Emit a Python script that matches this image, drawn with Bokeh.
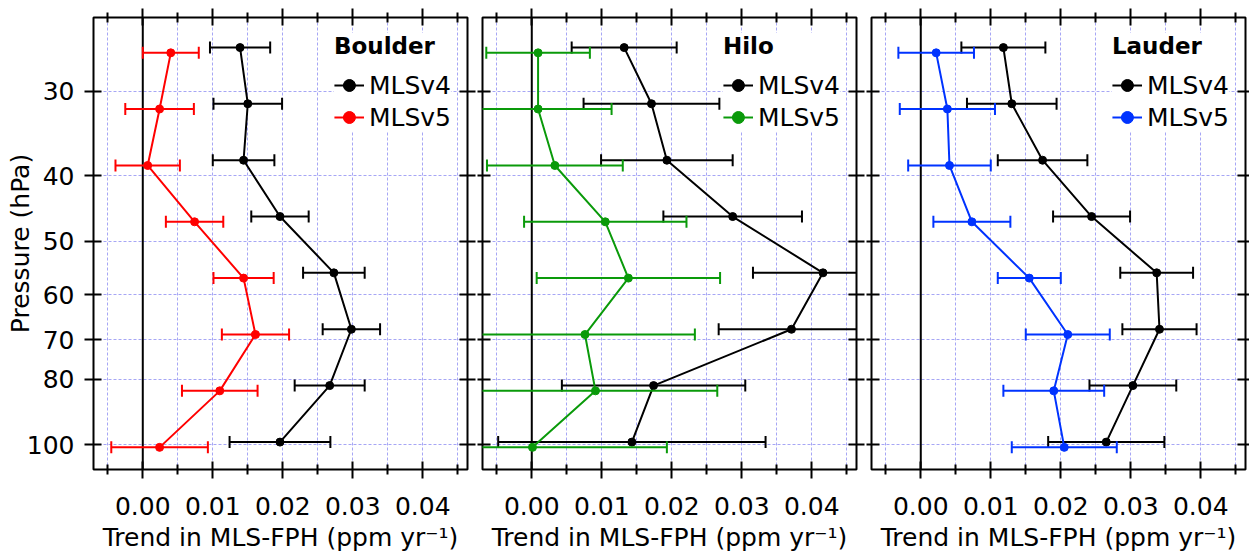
import math
from bokeh.plotting import figure
from bokeh.models import (Range1d, FixedTicker, LinearAxis, LogAxis, PrintfTickFormatter,
                          Legend, LegendItem, Span, ColumnDataSource, CustomLabelingPolicy)
from bokeh.layouts import row
from bokeh.embed import file_html
from bokeh.resources import INLINE

# ---------------- data ----------------
pressure_levels = [26.1, 31.6, 38.3, 46.4, 56.2, 68.1, 82.5, 100.0]

stations = ["Boulder", "Hilo", "Lauder"]
series_names = ["MLSv4", "MLSv5"]
v5_colors = ["#ff0000", "#0a9a0a", "#0033ff"]

boulder_v4 = [0.0139, 0.0150, 0.0144, 0.0196, 0.0273, 0.0298, 0.0267, 0.0196]
boulder_v4_err = [0.0043, 0.0049, 0.0044, 0.0041, 0.0044, 0.0041, 0.0050, 0.0072]
boulder_v5 = [0.0040, 0.0024, 0.0007, 0.0074, 0.0144, 0.0161, 0.0110, 0.0024]
boulder_v5_err = [0.0040, 0.0049, 0.0046, 0.0041, 0.0043, 0.0048, 0.0054, 0.0069]

hilo_v4 = [0.0132, 0.0171, 0.0193, 0.0287, 0.0416, 0.0371, 0.0174, 0.0143]
hilo_v4_err = [0.0075, 0.0097, 0.0094, 0.0099, 0.0100, 0.0104, 0.0131, 0.0191]
hilo_v5 = [0.0009, 0.0009, 0.0033, 0.0105, 0.0138, 0.0076, 0.0091, 0.0001]
hilo_v5_err = [0.0074, 0.0105, 0.0097, 0.0116, 0.0131, 0.0157, 0.0174, 0.0192]

lauder_v4 = [0.0118, 0.0130, 0.0174, 0.0244, 0.0337, 0.0341, 0.0303, 0.0265]
lauder_v4_err = [0.0060, 0.0064, 0.0064, 0.0055, 0.0052, 0.0053, 0.0062, 0.0083]
lauder_v5 = [0.0022, 0.0038, 0.0041, 0.0073, 0.0155, 0.0210, 0.0190, 0.0205]
lauder_v5_err = [0.0054, 0.0068, 0.0059, 0.0055, 0.0045, 0.0060, 0.0072, 0.0075]

x_major_ticks = [0.00, 0.01, 0.02, 0.03, 0.04]
x_minor_ticks = [-0.005, 0.005, 0.015, 0.025, 0.035, 0.045]
y_ticks = [30, 40, 50, 60, 70, 80, 100]

x_label = "Trend in MLS-FPH (ppm yr\u207b\u00b9)"
y_label = "Pressure (hPa)"

# ---------------- style ----------------
FONT = "DejaVu Sans"
GRID_COLOR = "#a6a6f5"
XMIN, XMAX = -0.00704, 0.04639
YBOT, YTOP = 108.8, 23.35
OFFSET = 1.009   # small vertical separation between the two versions
FRAME_W = 374
FIG_H = 556
TOP_B = 17
BOT_B = FIG_H - TOP_B - 452

# left border, right border, left tick out, right tick out
layout_borders = [(93, 9, 9, 8), (6, 9, 5, 8), (6, 4, 5, 4)]

panel_data = [
    (boulder_v4, boulder_v4_err, boulder_v5, boulder_v5_err),
    (hilo_v4, hilo_v4_err, hilo_v5, hilo_v5_err),
    (lauder_v4, lauder_v4_err, lauder_v5, lauder_v5_err),
]


def style_axis(ax, show_labels, tick_out):
    ax.axis_line_color = None
    ax.major_tick_line_color = "black"
    ax.major_tick_line_width = 2
    ax.major_tick_in = 8
    ax.major_tick_out = tick_out
    ax.minor_tick_line_color = "black"
    ax.minor_tick_line_width = 2
    ax.minor_tick_in = 5
    ax.minor_tick_out = 5
    ax.axis_label_text_font = FONT
    ax.axis_label_text_font_size = "25px"
    ax.axis_label_text_font_style = "normal"
    ax.axis_label_text_color = "black"
    if show_labels:
        ax.major_label_text_font = FONT
        ax.major_label_text_font_size = "25px"
        ax.major_label_text_color = "black"
    else:
        ax.major_label_text_font_size = "0px"
        ax.major_label_standoff = 0
        ax.major_label_policy = CustomLabelingPolicy(code="return new Set()")


def make_panel(idx):
    name = stations[idx]
    v4, v4e, v5, v5e = panel_data[idx]
    color = v5_colors[idx]
    bl, br, lt_out, rt_out = layout_borders[idx]

    p = figure(width=bl + FRAME_W + br, height=FIG_H,
               x_range=Range1d(XMIN, XMAX), y_range=Range1d(YBOT, YTOP),
               y_axis_type="log", output_backend="svg", toolbar_location=None,
               min_border_left=bl, min_border_right=br,
               min_border_top=TOP_B, min_border_bottom=BOT_B)
    p.outline_line_color = "black"
    p.outline_line_width = 2
    p.background_fill_color = "white"
    p.border_fill_color = "white"

    xt = FixedTicker(ticks=x_major_ticks, minor_ticks=x_minor_ticks)
    yt = FixedTicker(ticks=y_ticks, minor_ticks=[])

    xa = p.xaxis[0]
    xa.ticker = xt
    xa.formatter = PrintfTickFormatter(format="%.2f")
    style_axis(xa, True, 9)
    xa.major_label_standoff = 18
    xa.axis_label = x_label
    xa.axis_label_standoff = 5

    ya = p.yaxis[0]
    ya.ticker = yt
    style_axis(ya, idx == 0, 9 if idx == 0 else lt_out)
    if idx == 0:
        ya.major_label_standoff = 10
        ya.axis_label = y_label
        ya.axis_label_standoff = -11

    top = LinearAxis(ticker=xt)
    style_axis(top, False, 9)
    p.add_layout(top, "above")
    right = LogAxis(ticker=yt)
    style_axis(right, False, rt_out)
    p.add_layout(right, "right")

    # grid
    p.xgrid.ticker = xt
    p.ygrid.ticker = yt
    for g in (p.xgrid[0], p.ygrid[0]):
        g.grid_line_color = GRID_COLOR
        g.grid_line_width = 1
        g.grid_line_dash = "3 2"
    p.xgrid[0].minor_grid_line_color = GRID_COLOR
    p.xgrid[0].minor_grid_line_width = 1
    p.xgrid[0].minor_grid_line_dash = "3 2"

    p.add_layout(Span(location=0, dimension="height", line_color="black",
                      line_width=2, level="underlay"))

    legend_items = []
    for vals, errs, col, fac, lab in ((v4, v4e, "black", 1.0 / OFFSET, series_names[0]),
                                      (v5, v5e, color, OFFSET, series_names[1])):
        src = ColumnDataSource(dict(
            x=vals,
            lo=[v - e for v, e in zip(vals, errs)],
            hi=[v + e for v, e in zip(vals, errs)],
            y=[pl * fac for pl in pressure_levels],
        ))
        p.segment(x0="lo", y0="y", x1="hi", y1="y", source=src,
                  line_color=col, line_width=2)
        for end in ("lo", "hi"):
            p.scatter(x=end, y="y", source=src, marker="dash", angle=math.pi / 2,
                      size=12, line_color=col, line_width=2)
        ln = p.line("x", "y", source=src, line_color=col, line_width=2)
        mk = p.scatter("x", "y", source=src, size=8, fill_color=col, line_color=col)
        legend_items.append(LegendItem(label=lab, renderers=[ln, mk]))

    legend = Legend(items=legend_items, location="top_right", title=name)
    legend.title_text_font = FONT
    legend.title_text_font_size = "23px"
    legend.title_text_font_style = "bold"
    legend.title_text_color = "black"
    legend.title_standoff = 11
    legend.label_text_font = FONT
    legend.label_text_font_size = "25px"
    legend.label_text_color = "black"
    legend.border_line_color = None
    legend.background_fill_color = "white"
    legend.background_fill_alpha = 1.0
    legend.glyph_width = 30
    legend.glyph_height = 30
    legend.label_height = 30
    legend.spacing = 2
    legend.label_standoff = 5
    legend.padding = 6
    legend.margin = 16
    p.add_layout(legend)
    return p


panels = [make_panel(i) for i in range(3)]
layout = row(*panels, spacing=0)

open("out.html", "w").write(file_html(layout, INLINE))
